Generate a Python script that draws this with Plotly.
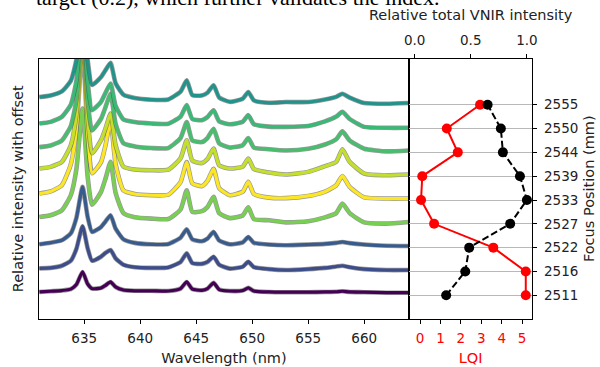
import plotly.graph_objects as go
from plotly.colors import sample_colorscale

# ---------------- data ----------------
focus_labels = ["2511", "2516", "2522", "2527", "2533", "2539", "2544", "2550", "2555"]
lqi = [5.18, 5.18, 3.59, 0.69, 0.05, 0.11, 1.85, 1.31, 2.94]
rel_vnir = [0.281, 0.451, 0.486, 0.851, 1.0, 0.938, 0.786, 0.768, 0.65]

line_pos = [634.85, 637.35, 644.15, 646.55, 649.65, 658.05]
line_names = ["Si", "Si", "Ca", "Ca", "Ca", "H/C-658"]

wavelength = [631, 632, 633, 633.8, 634.3, 634.85, 635.3, 635.7, 636.5, 636.9, 637.35, 637.8,
              638.5, 639.5, 641, 642.5, 643.6, 644.15, 644.65, 645.5, 646.0, 646.55, 647.05,
              648, 649.15, 649.65, 650.15, 651.5, 653, 655, 656.5, 657.5, 658.05, 658.7,
              660, 662, 664]

s2511 = [0.14, 0.17, 0.20, 0.26, 0.45, 0.98, 0.48, 0.28, 0.31, 0.42, 0.56, 0.35, 0.22, 0.19,
         0.19, 0.18, 0.28, 0.56, 0.26, 0.21, 0.28, 0.52, 0.24, 0.18, 0.20, 0.31, 0.18, 0.14,
         0.13, 0.13, 0.14, 0.15, 0.17, 0.14, 0.13, 0.11, 0.11]
s2516 = [0.13, 0.15, 0.24, 0.45, 0.95, 1.90, 0.98, 0.45, 0.62, 0.78, 0.90, 0.55, 0.28, 0.18,
         0.15, 0.17, 0.40, 0.76, 0.35, 0.32, 0.40, 0.62, 0.28, 0.12, 0.20, 0.41, 0.18, 0.10,
         0.06, 0.10, 0.15, 0.21, 0.24, 0.18, 0.10, 0.06, 0.06]
s2522 = [0.14, 0.21, 0.31, 0.60, 1.25, 2.55, 1.30, 0.66, 0.87, 1.10, 1.36, 0.80, 0.35, 0.20,
         0.14, 0.15, 0.42, 0.77, 0.35, 0.27, 0.38, 0.66, 0.30, 0.14, 0.22, 0.45, 0.20, 0.13,
         0.10, 0.13, 0.16, 0.20, 0.24, 0.19, 0.13, 0.08, 0.07]
s2527 = [0.29, 0.36, 0.57, 1.20, 2.30, 4.84, 2.00, 0.80, 1.34, 1.90, 2.60, 1.30, 0.45, 0.28,
         0.22, 0.20, 0.60, 1.41, 0.50, 0.53, 0.70, 1.13, 0.45, 0.24, 0.35, 0.69, 0.20, 0.15,
         0.06, 0.11, 0.27, 0.45, 0.85, 0.45, 0.06, 0.01, 0.08]
s2533 = [0.27, 0.36, 0.62, 1.50, 3.00, 6.50, 2.80, 1.12, 1.59, 2.30, 3.36, 1.50, 0.40, 0.25,
         0.20, 0.22, 0.75, 1.59, 0.70, 0.58, 0.80, 1.31, 0.50, 0.20, 0.35, 0.76, 0.25, 0.10,
         0.08, 0.17, 0.35, 0.62, 1.01, 0.55, 0.11, 0.06, 0.06]
s2539 = [0.32, 0.39, 0.60, 1.30, 2.60, 6.00, 2.50, 0.96, 1.51, 2.00, 2.63, 1.30, 0.40, 0.28,
         0.25, 0.27, 0.75, 1.51, 0.65, 0.55, 0.72, 1.16, 0.45, 0.32, 0.40, 0.74, 0.30, 0.15,
         0.07, 0.18, 0.42, 0.60, 1.13, 0.60, 0.11, 0.04, 0.07]
s2544 = [0.22, 0.29, 0.50, 1.10, 2.20, 5.50, 2.20, 0.92, 1.41, 1.90, 2.46, 1.20, 0.38, 0.25,
         0.18, 0.18, 0.60, 1.27, 0.50, 0.43, 0.60, 0.99, 0.38, 0.20, 0.30, 0.60, 0.20, 0.13,
         0.08, 0.15, 0.33, 0.55, 0.88, 0.50, 0.15, 0.04, 0.08]
s2550 = [0.21, 0.28, 0.49, 1.00, 2.00, 5.00, 2.00, 0.77, 1.12, 1.50, 1.89, 0.95, 0.38, 0.27,
         0.21, 0.20, 0.50, 0.98, 0.40, 0.35, 0.48, 0.77, 0.30, 0.18, 0.28, 0.56, 0.18, 0.08,
         0.07, 0.11, 0.30, 0.50, 0.70, 0.40, 0.07, 0.03, 0.03]
s2555 = [0.32, 0.39, 0.56, 1.00, 1.90, 4.50, 1.90, 0.83, 1.16, 1.45, 1.76, 0.90, 0.42, 0.28,
         0.21, 0.22, 0.55, 1.02, 0.40, 0.39, 0.50, 0.81, 0.30, 0.12, 0.25, 0.53, 0.18, 0.08,
         0.11, 0.11, 0.22, 0.33, 0.46, 0.30, 0.07, 0.04, 0.07]

spectra = [s2511, s2516, s2522, s2527, s2533, s2539, s2544, s2550, s2555]
positions = list(range(len(focus_labels)))

# colours from relative intensity (viridis)
vmin, vmax = min(rel_vnir), max(rel_vnir)
colors = sample_colorscale("Viridis", [(v - vmin) / (vmax - vmin) for v in rel_vnir])

FONT = "DejaVu Sans"
FS = 13.5   # tick labels
TS = 14.5   # axis titles
TXT = "#222"

fig = go.Figure()

for i, spec in enumerate(spectra):
    y = [i + v for v in spec]
    fig.add_trace(go.Scatter(x=wavelength, y=y, mode="lines", xaxis="x", yaxis="y",
                             line=dict(color="rgba(70,70,70,0.55)", width=4.6,
                                       shape="spline", smoothing=0.5),
                             hoverinfo="skip", showlegend=False))
    fig.add_trace(go.Scatter(x=wavelength, y=y, mode="lines", xaxis="x", yaxis="y",
                             line=dict(color=colors[i], width=3.2,
                                       shape="spline", smoothing=0.5),
                             name=focus_labels[i], showlegend=False))

fig.add_trace(go.Scatter(x=lqi, y=positions, mode="lines+markers", xaxis="x2", yaxis="y2",
                         line=dict(color="#ff0000", width=2),
                         marker=dict(color="#ff0000", size=10),
                         name="LQI", showlegend=False))
fig.add_trace(go.Scatter(x=rel_vnir, y=positions, mode="lines+markers", xaxis="x4", yaxis="y2",
                         line=dict(color="black", width=2, dash="7px,3px"),
                         marker=dict(color="black", size=10),
                         name="Relative total VNIR intensity", showlegend=False))

ydom = [1 - 318.7 / 367, 1 - 58.8 / 367]
yrange = [-0.982, 9.926]
xl = [39 / 600, 409 / 600]
xr = [409 / 600, 532.3 / 600]

axis_common = dict(showline=True, linecolor="black", linewidth=1, ticks="outside",
                   ticklen=4, tickcolor="black", tickwidth=1, zeroline=False, showgrid=False,
                   automargin=False, ticklabelstandoff=3,
                   tickfont=dict(family=FONT, size=FS, color=TXT))

fig.update_layout(
    width=600, height=367,
    margin=dict(l=0, r=0, t=0, b=0, pad=0, autoexpand=False),
    paper_bgcolor="white", plot_bgcolor="white",
    font=dict(family=FONT, size=FS, color=TXT),
    xaxis=dict(domain=xl, anchor="y", range=[630.96, 664.0],
               tickvals=[635, 640, 645, 650, 655, 660], mirror=True,
               title=dict(text="Wavelength (nm)", font=dict(family=FONT, size=TS), standoff=7),
               **axis_common),
    xaxis3=dict(overlaying="x", side="top", anchor="y", range=[630.96, 664.0],
                tickvals=line_pos, ticktext=line_names, **axis_common),
    yaxis=dict(domain=ydom, anchor="x", range=yrange, showticklabels=False,
               showline=True, linecolor="black", mirror=True, ticks="", zeroline=False,
               showgrid=False, automargin=False,
               title=dict(text="Relative intensity with offset",
                          font=dict(family=FONT, size=TS), standoff=10)),
    xaxis2=dict(domain=xr, anchor="y2", range=[-0.54, 5.5], tickvals=[0, 1, 2, 3, 4, 5],
                showline=True, linecolor="black", linewidth=1, ticks="outside", ticklen=4,
                tickcolor="black", zeroline=False, showgrid=False, mirror=True,
                automargin=False, ticklabelstandoff=3,
                tickfont=dict(family=FONT, size=FS, color="#ff0000"),
                title=dict(text="LQI", font=dict(family=FONT, size=TS, color="#ff0000"),
                           standoff=7)),
    xaxis4=dict(overlaying="x2", side="top", anchor="y2", range=[-0.05, 1.048],
                tickvals=[0, 0.5, 1.0], ticktext=["0.0", "0.5", "1.0"],
                title=dict(text="Relative total VNIR intensity",
                           font=dict(family=FONT, size=TS), standoff=8),
                **axis_common),
    yaxis2=dict(domain=ydom, anchor="x2", side="right", range=yrange,
                tickvals=positions, ticktext=focus_labels,
                showline=True, linecolor="black", mirror=True, ticks="outside", ticklen=4,
                tickcolor="black", zeroline=False, automargin=False, ticklabelstandoff=4,
                showgrid=True, gridcolor="#b8b8b8", gridwidth=1,
                tickfont=dict(family=FONT, size=FS, color=TXT),
                title=dict(text="Focus Position (mm)", font=dict(family=FONT, size=TS),
                           standoff=6)),
    annotations=[dict(text="target (0.2), which further validates the index.",
                      xref="paper", yref="paper", x=34 / 600, y=1 - 12 / 367,
                      xanchor="left", yanchor="bottom", showarrow=False,
                      font=dict(family="Liberation Serif", size=22, color="black"))],
)

fig.write_html("out.html", config={"displayModeBar": False},
               post_script="document.body.style.margin='0';")
